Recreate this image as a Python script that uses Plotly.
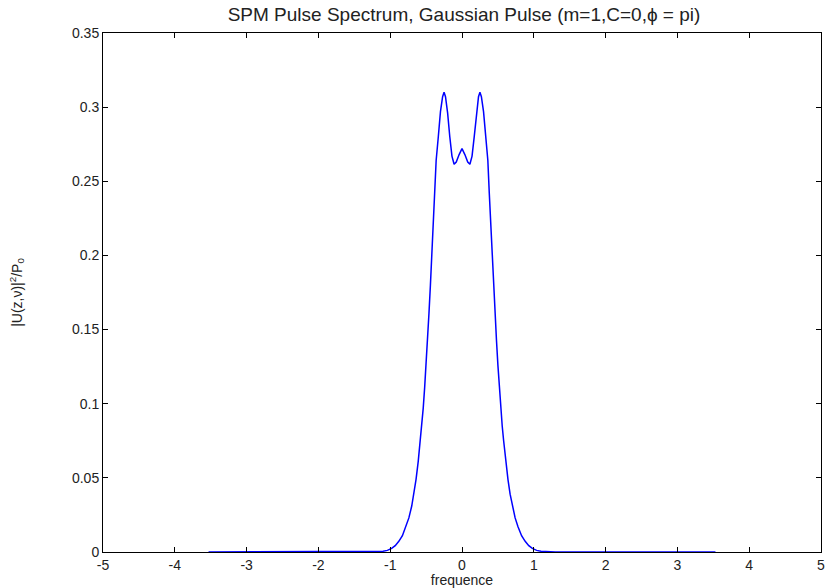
import plotly.graph_objects as go

# Frequency samples
freq = [-3.53, -1.30, -1.18, -1.10, -1.04, -0.98, -0.93, -0.88, -0.83, -0.78,
        -0.74, -0.70, -0.67, -0.64, -0.61, -0.58, -0.56, -0.54, -0.52, -0.50,
        -0.48, -0.46, -0.44, -0.42, -0.40, -0.38, -0.36, -0.33, -0.30, -0.27,
        -0.25, -0.23, -0.20, -0.17, -0.14, -0.11, -0.08, -0.04, 0.00,
        0.04, 0.08, 0.11, 0.14, 0.17, 0.20, 0.23, 0.25, 0.27, 0.30,
        0.33, 0.36, 0.38, 0.40, 0.42, 0.44, 0.46, 0.48, 0.50, 0.52,
        0.54, 0.56, 0.58, 0.61, 0.64, 0.67, 0.70, 0.74, 0.78, 0.83,
        0.88, 0.93, 0.98, 1.04, 1.10, 1.18, 1.30, 3.53]

# Normalised spectral intensity |U(z,v)|^2 / P0
power = [0.0, 0.0, 0.0001, 0.0005, 0.0011, 0.0024, 0.0043, 0.0072, 0.011, 0.017,
         0.023, 0.031, 0.039, 0.049, 0.061, 0.075, 0.085, 0.097, 0.111, 0.126,
         0.143, 0.161, 0.180, 0.199, 0.220, 0.242, 0.264, 0.280, 0.297, 0.307,
         0.310, 0.307, 0.296, 0.280, 0.267, 0.2615, 0.263, 0.268, 0.272,
         0.268, 0.263, 0.2615, 0.267, 0.280, 0.296, 0.307, 0.310, 0.307, 0.297,
         0.280, 0.264, 0.242, 0.220, 0.199, 0.180, 0.161, 0.143, 0.126, 0.111,
         0.097, 0.085, 0.075, 0.061, 0.049, 0.039, 0.031, 0.023, 0.017, 0.011,
         0.0072, 0.0043, 0.0024, 0.0011, 0.0005, 0.0001, 0.0, 0.0]

x_ticks = [-5, -4, -3, -2, -1, 0, 1, 2, 3, 4, 5]
y_ticks = [0, 0.05, 0.1, 0.15, 0.2, 0.25, 0.3, 0.35]
y_tick_text = ["0", "0.05", "0.1", "0.15", "0.2", "0.25", "0.3", "0.35"]

FONT = "Liberation Sans, Arial, sans-serif"

fig = go.Figure()
fig.add_trace(go.Scatter(x=freq, y=power, mode="lines",
                         line=dict(color="#0000ff", width=1.5),
                         showlegend=False, hoverinfo="x+y"))

axis_common = dict(showline=True, linecolor="#000000", linewidth=1,
                   mirror="ticks", ticks="inside", ticklen=5, tickcolor="#000000",
                   showgrid=False, zeroline=False, ticklabeloverflow="allow",
                   tickfont=dict(family=FONT, size=14, color="#222222"))

fig.update_layout(
    width=826, height=588,
    margin=dict(l=103, r=1, t=33, b=36),
    paper_bgcolor="#ffffff", plot_bgcolor="#ffffff",
    title=dict(text="SPM Pulse Spectrum, Gaussian Pulse (m=1,C=0,\u03d5 = pi)",
               x=464 / 826, xanchor="center", y=1 - 14 / 588, yanchor="middle",
               font=dict(family=FONT, size=19, color="#222222")),
    xaxis=dict(range=[-5, 5], tickvals=x_ticks, ticktext=[str(v) for v in x_ticks],
               title=dict(text="frequence", standoff=0,
                          font=dict(family=FONT, size=14, color="#222222")),
               **axis_common),
    yaxis=dict(range=[0, 0.35], tickvals=y_ticks, ticktext=y_tick_text,
               title=dict(text="|U(z,\u03bd)|<sup>2</sup>/P<sub>0</sub>", standoff=46,
                          font=dict(family=FONT, size=14, color="#222222")),
               **axis_common),
)

fig.write_html("out.html", config={"displayModeBar": False},
               post_script="document.body.style.margin='0';document.body.style.padding='0';")
